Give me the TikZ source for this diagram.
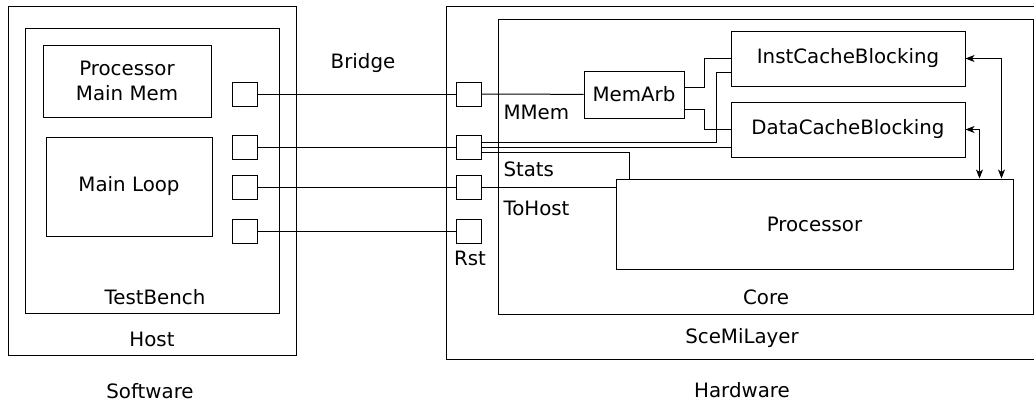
\documentclass[tikz,border=0pt]{standalone}
\usepackage{fontspec}
\setmainfont{DejaVu Sans}
\usetikzlibrary{arrows.meta}
\tikzset{
  blk/.style={draw, rectangle, inner sep=0pt},
  port/.style={draw, rectangle, inner sep=0pt, minimum width=25pt, minimum height=24pt},
  lbl/.style={inner sep=0pt, font=\fontsize{19.8}{25}\selectfont},
  biarrow/.style={{Stealth[length=9pt,width=7pt,inset=2.5pt]}-{Stealth[length=9pt,width=7pt,inset=2.5pt]}},
}
\begin{document}
\begin{tikzpicture}[x=1pt, y=-1pt, line width=1pt]
\useasboundingbox (0,0) rectangle (1034,402);

%software side
\node[blk, minimum width=288pt, minimum height=349pt] (host) at (152,180.5) {};
\node[blk, minimum width=254pt, minimum height=285pt] (tb) at (152,170.5) {};
\node[blk, minimum width=168pt, minimum height=72pt] (mainmem) at (127,81) {};
\node[lbl, align=center] (mainmemtxt) at (mainmem) {Processor\\Main Mem};
\node[blk, minimum width=166pt, minimum height=99pt, lbl] (mainloop) at (129,186.5) {Main Loop};
\node[lbl] (tbtxt) at (155,297) {TestBench};
\node[lbl] (hosttxt) at (152,339) {Host};
\node[lbl] (sw) at (150,391) {Software};

%ports on both ends of the bridge
\node[port] (lp1) at (244.5,94) {};
\node[port] (lp2) at (244.5,147) {};
\node[port] (lp3) at (244.5,187.5) {};
\node[port] (lp4) at (244.5,231) {};
\node[port] (rp1) at (468.5,94) {};
\node[port] (rp2) at (468.5,147) {};
\node[port] (rp3) at (468.5,187.5) {};
\node[port] (rp4) at (468.5,231) {};
\node[lbl] (bridge) at (363,63) {Bridge};

%hardware side
\node[blk, minimum width=594pt, minimum height=353pt] (sceml) at (743,182.5) {};
\node[blk, minimum width=535pt, minimum height=295pt] (core) at (765.5,166.5) {};
\node[blk, lbl, minimum width=100pt, minimum height=47pt] (memarb) at (634,94.5) {MemArb};
\node[blk, lbl, minimum width=234pt, minimum height=55pt] (icache) at (848,58.5) {InstCacheBlocking};
\node[blk, lbl, minimum width=234pt, minimum height=55pt] (dcache) at (848,129.5) {DataCacheBlocking};
\node[blk, lbl, minimum width=397pt, minimum height=90pt] (proc) at (814.5,224) {Processor};
\node[lbl] (coretxt) at (766,297) {Core};
\node[lbl] (scemltxt) at (742,338) {SceMiLayer};
\node[lbl] (hw) at (742,390) {Hardware};
\node[lbl, anchor=west] (mmem) at (503,112) {MMem};
\node[lbl, anchor=west] (stats) at (503,169) {Stats};
\node[lbl, anchor=west] (tohost) at (503,208) {ToHost};
\node[lbl] (rst) at (470,258) {Rst};

%bridge wires
\draw (lp1) -- (rp1);
\draw (lp2) -- (rp2);
\draw (lp3) -- (rp3);
\draw (lp4) -- (rp4);

%wires inside the core
\draw (rp1) -- (memarb);
\draw ([yshift=7.5pt]memarb.east) -- ++(20,0) |- (icache.west);
\draw ([yshift=-14.5pt]memarb.east) -- ++(20,0) |- (dcache.west);
\draw ([yshift=5pt]rp2.east) -| ([xshift=-14pt,yshift=-13.5pt]icache.west) -- ([yshift=-13.5pt]icache.west);
\draw (rp2.east) -- (rp2.east -| dcache.west);
\draw ([yshift=-5pt]rp2.east) -| ([xshift=14pt]proc.north west);
\draw (rp3.east) -- (rp3.east -| proc.west);
\draw[biarrow] (icache.east) -| ([xshift=-12pt]proc.north east);
\draw[biarrow] (dcache.east) -| ([xshift=-34pt]proc.north east);
\end{tikzpicture}
\end{document}
